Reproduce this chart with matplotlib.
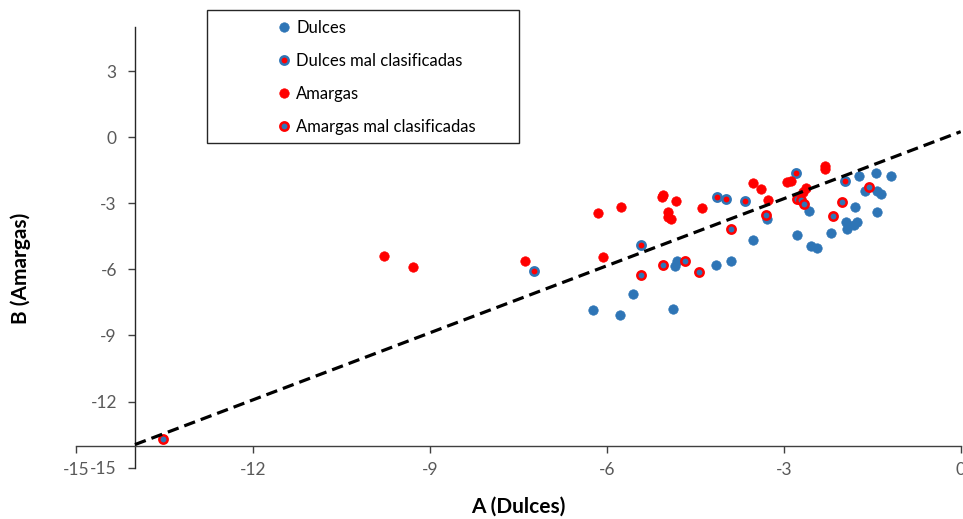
import matplotlib
matplotlib.use("Agg")
import matplotlib.pyplot as plt
from matplotlib.patches import Rectangle

plt.rcParams['font.family'] = ['Lato', 'DejaVu Sans']

# ---- data ----
dulces_x = [-4.85, -4.81, -4.15, -5.56, -6.23, -5.78, -4.88, -3.29, -3.53, -3.89,
            -2.57, -2.78, -2.54, -2.44, -1.72, -1.43, -1.19, -1.62, -1.42, -1.35,
            -1.79, -1.42, -1.94, -1.76, -1.81, -1.93, -2.20]
dulces_y = [-5.85, -5.64, -5.82, -7.13, -7.84, -8.09, -7.79, -3.72, -4.68, -5.61,
            -3.37, -4.43, -4.95, -5.04, -1.75, -1.62, -1.75, -2.46, -2.43, -2.58,
            -3.19, -3.41, -3.86, -3.86, -3.97, -4.18, -4.34]

dulces_mal_x = [-7.24, -5.42, -4.14, -3.98, -3.66, -2.80, -1.96]
dulces_mal_y = [-6.08, -4.88, -2.70, -2.81, -2.91, -1.64, -1.98]

amargas_x = [-9.77, -9.28, -7.39, -6.15, -5.76, -5.07, -5.04, -4.83, -4.96, -4.97,
             -4.91, -4.39, -6.06, -3.53, -3.38, -3.27, -2.95, -2.88, -2.62, -2.67,
             -2.30, -2.30]
amargas_y = [-5.39, -5.91, -5.61, -3.46, -3.17, -2.72, -2.62, -2.91, -3.38, -3.64,
             -3.73, -3.22, -5.45, -2.10, -2.37, -2.87, -2.04, -2.00, -2.32, -2.47,
             -1.30, -1.43]

amargas_mal_x = [-13.52, -5.42, -5.05, -4.68, -4.43, -3.30, -3.89, -2.78, -2.70,
                 -2.66, -2.17, -1.55, -2.02]
amargas_mal_y = [-13.71, -6.26, -5.80, -5.64, -6.11, -3.52, -4.17, -2.81, -2.85,
                 -3.04, -3.57, -2.26, -2.93]

line_x = [-14.0, 0.0]
line_y = [-13.95, 0.25]

x_ticks = [-15, -12, -9, -6, -3, 0]
y_ticks = [-15, -12, -9, -6, -3, 0, 3]

labels = ["Dulces", "Dulces mal clasificadas", "Amargas", "Amargas mal clasificadas"]

BLUE = '#2E75B6'
RED = '#FF0000'
GRAY = '#595959'

fig = plt.figure(figsize=(9.63, 5.19), dpi=100)
ax = fig.add_axes([76/963, 51.3/519, (960.7-76)/963, (492-51.3)/519])
ax.set_xlim(-15, 0)
ax.set_ylim(-15, 5)

ms_plain = 6.8
ms_ring = 6.0
mew_ring = 1.8

h1, = ax.plot(dulces_x, dulces_y, 'o', ms=ms_plain, mfc=BLUE, mec=BLUE, mew=0.5, ls='none', zorder=3)
h2, = ax.plot(dulces_mal_x, dulces_mal_y, 'o', ms=ms_ring, mfc=RED, mec=BLUE, mew=mew_ring, ls='none', zorder=3)
h3, = ax.plot(amargas_x, amargas_y, 'o', ms=ms_plain, mfc=RED, mec=RED, mew=0.5, ls='none', zorder=3)
h4, = ax.plot(amargas_mal_x, amargas_mal_y, 'o', ms=ms_ring, mfc=BLUE, mec=RED, mew=mew_ring, ls='none', zorder=3)

ax.plot(line_x, line_y, color='black', lw=2.3, dashes=(3.6, 1.9), zorder=4)

for s in ['top', 'right']:
    ax.spines[s].set_visible(False)
ax.spines['left'].set_position(('data', -14))
ax.spines['bottom'].set_position(('data', -14))
ax.spines['left'].set_color('#262626')
ax.spines['bottom'].set_color('#404040')
ax.spines['left'].set_linewidth(1.0)
ax.spines['bottom'].set_linewidth(1.0)
ax.spines['left'].set_bounds(-15, 5)
ax.spines['bottom'].set_bounds(-15, 0)

ax.set_xticks(x_ticks)
ax.set_yticks(y_ticks)
ax.set_xticklabels([str(v) for v in x_ticks])
ax.set_yticklabels([str(v) for v in y_ticks])
ax.tick_params(axis='both', direction='out', length=5, width=1.0, colors='#404040',
               labelcolor=GRAY, labelsize=12.5, pad=7)
ax.tick_params(axis='y', pad=8)
ax.patch.set_alpha(0)

fig.text(518/963, 1 - 507/519, "A (Dulces)", ha='center', va='center',
         fontsize=15, fontweight='bold', color='black')
fig.text(21/963, 1 - 268/519, "B (Amargas)", ha='center', va='center', rotation=90,
         fontsize=15, fontweight='bold', color='black')

# legend box
fig.patches.append(Rectangle((207/963, 1 - 143/519), (519-207)/963, (143-10)/519,
                             transform=fig.transFigure, fill=True, facecolor='white',
                             edgecolor='#262626', lw=1.0, zorder=5))
leg = fig.legend([h1, h2, h3, h4], labels, loc='upper left',
                 bbox_to_anchor=(277/963, 1 - 20/519), frameon=False,
                 fontsize=12, labelspacing=1.02, handlelength=0.8,
                 handletextpad=0.35, borderpad=0.0, borderaxespad=0.0)
leg.set_zorder(6)

fig.savefig("out.png", dpi=100)
